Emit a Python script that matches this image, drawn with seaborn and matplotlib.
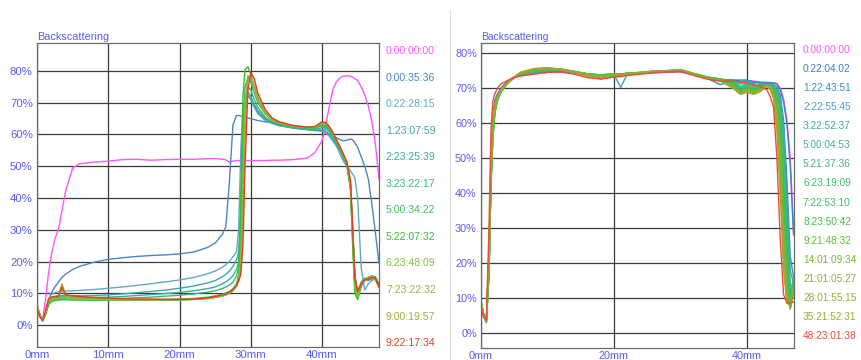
import matplotlib
matplotlib.use("Agg")
import matplotlib.pyplot as plt
from matplotlib.lines import Line2D
import pandas as pd
import seaborn as sns

# ---------------- left panel: backscattering profiles (position in mm, BS in %) ----------------
left_pos_mm = [0, 0.4, 0.8, 1.2, 1.6, 2.0, 2.5, 3.0, 3.5, 4.0,
               5, 6, 8, 10, 12, 14, 16, 18, 20, 22,
               24, 25, 26, 26.5, 27, 27.5, 28, 28.3, 28.6, 28.9,
               29.2, 29.6, 30, 30.5, 31, 32, 33, 34, 36, 38,
               39, 40, 40.5, 41, 41.5, 42, 42.5, 43, 43.5, 44,
               44.3, 44.6, 45, 45.5, 46, 46.5, 47, 47.5, 48]

left_times = ["0:00:00:00", "0:00:35:36", "0:22:28:15", "1:23:07:59", "2:23:25:39", "3:23:22:17",
              "5:00:34:22", "5:22:07:32", "6:23:48:09", "7:23:22:32", "9:00:19:57", "9:22:17:34"]

left_t00 = [5.5, 3, 2, 8, 16, 22, 27, 30, 36, 42,
            49.5, 50.8, 51.3, 51.6, 52.1, 52.2, 51.9, 52.1, 52.2, 52.2,
            52.4, 52.4, 52.2, 52.0, 51.3, 51.6, 51.8, 51.8, 51.7, 51.7,
            51.8, 51.8, 51.8, 51.8, 51.8, 51.8, 51.9, 51.9, 52.1, 52.6,
            54.3, 58, 62.5, 68.5, 74, 76.5, 77.8, 78.4, 78.5, 78.3,
            78.0, 77.6, 77, 75, 72.5, 69, 64, 57, 46]
left_t01 = [5.5, 3, 1.8, 4, 8, 10, 12, 13.5, 15, 16,
            17.5, 18.5, 19.8, 20.7, 21.2, 21.6, 21.9, 22.1, 22.4, 23.0,
            24.5, 25.8, 28.5, 31, 45, 63, 66, 66, 65.8, 65.6,
            65.4, 65.2, 65.0, 64.7, 64.4, 64.0, 63.7, 63.4, 62.8, 62.2,
            61.7, 61.0, 60.5, 60.0, 59.5, 59, 58.4, 58, 58.2, 58.6,
            58.3, 57.5, 56, 53, 50, 46, 38, 29, 19.5]
left_t02 = [5.5, 3, 1.8, 4, 7.5, 9.5, 10.2, 10.5, 10.6, 10.7,
            10.8, 10.9, 11.2, 11.6, 12.0, 12.5, 13.0, 13.6, 14.2, 15.0,
            16.2, 17.0, 18.2, 19.0, 20.0, 21.5, 23, 30, 55, 68,
            71.5, 72.5, 71, 68.5, 66.5, 64.5, 63.5, 62.8, 62.0, 61.5,
            61.2, 61.0, 60.5, 59.5, 58, 56.5, 54, 51.5, 50, 48.5,
            47.5, 46.5, 40, 18, 11, 13, 14, 14.5, 13]
left_t03 = [5.5, 3, 1.6, 4, 7, 8.5, 9, 9.2, 9.3, 9.3,
            9.3, 9.2, 9.3, 9.5, 9.8, 10.2, 10.6, 11.0, 11.6, 12.3,
            13.3, 14.0, 15.2, 16.0, 17.0, 18.5, 20.5, 23, 35, 62,
            72, 73.5, 72, 69.5, 67.5, 65, 63.8, 63.0, 62.2, 61.6,
            61.3, 61.5, 61.2, 60.2, 58.5, 56.5, 55, 52.5, 50, 43,
            29, 15, 10, 13, 14.5, 14, 14.5, 15, 12.5]
left_t04 = [5.8, 3.2, 1.5, 3.5, 6.5, 8, 8.5, 8.8, 8.9, 8.9,
            8.8, 8.7, 8.7, 8.8, 9.0, 9.3, 9.6, 9.9, 10.3, 10.8,
            11.5, 12.0, 13.0, 13.6, 14.4, 15.5, 17.5, 20, 28, 55,
            70, 72, 71.2, 69, 67, 64.8, 63.5, 62.8, 62.0, 61.5,
            61.4, 62.2, 62, 61, 59.3, 57, 55.3, 53, 50.5, 44,
            30, 16, 10.5, 13.5, 14.8, 14.2, 14.8, 15.2, 12.8]
left_t05 = [6, 3.3, 1.5, 3.5, 6.5, 7.8, 8.2, 8.4, 8.5, 8.5,
            8.4, 8.3, 8.3, 8.3, 8.4, 8.6, 8.8, 9.1, 9.4, 9.8,
            10.4, 10.8, 11.5, 12.0, 12.6, 13.5, 15.5, 18, 24, 45,
            68, 75, 74, 71, 68.5, 65.5, 64, 63.2, 62.3, 61.8,
            61.8, 62.8, 62.5, 61.5, 59.8, 57.5, 55.5, 53, 50.5, 44,
            31, 16, 9.5, 13, 14.5, 14.6, 15, 14.8, 12.5]
left_t06 = [6, 3.2, 1.4, 3.5, 6.5, 7.5, 7.8, 8.0, 8.1, 8.1,
            8.0, 8.0, 7.9, 7.9, 7.9, 8.0, 8.0, 8.1, 8.2, 8.4,
            8.8, 9.2, 9.7, 10.1, 10.6, 11.5, 13, 16, 30, 60,
            75, 78, 76.5, 73, 70, 66.5, 64.5, 63.5, 62.5, 62.0,
            62.0, 63.0, 62.8, 61.8, 60, 57.8, 55.5, 53, 50.5, 43,
            27, 12, 8.5, 12.5, 14.0, 14.8, 15.2, 14.5, 12]
left_t07 = [6.2, 3.4, 1.4, 3.4, 6.3, 7.4, 7.7, 7.9, 8.0, 8.0,
            7.9, 7.9, 7.8, 7.8, 7.8, 7.8, 7.9, 7.9, 8.0, 8.1,
            8.4, 8.7, 9.1, 9.5, 10.0, 10.8, 12.5, 15, 40, 72,
            80.5, 81.3, 79, 75, 71.5, 67, 64.8, 63.7, 62.7, 62.1,
            62.1, 63.2, 63, 62, 60.2, 58, 55.8, 53.3, 50.8, 43,
            25, 10, 8, 12, 14.5, 15, 15.5, 15, 12.5]
left_t08 = [6, 3.3, 1.5, 3.8, 7, 8, 8.2, 8.3, 8.5, 8.4,
            8.2, 8.1, 8.0, 7.9, 7.9, 7.9, 8.0, 8.0, 8.0, 8.2,
            8.5, 8.8, 9.3, 9.7, 10.2, 11, 12.5, 14.5, 20, 45,
            70, 78, 77.5, 74.5, 71, 66.8, 64.6, 63.6, 62.6, 62.1,
            62.2, 63.4, 63.2, 62.2, 60.4, 58.2, 56, 53.5, 51, 44,
            28, 12, 9, 12.8, 14.2, 14.6, 15.4, 14.2, 11.8]
left_t09 = [6, 3.3, 1.5, 4, 7.5, 8.2, 8.4, 8.6, 11.5, 9.0,
            8.6, 8.3, 8.1, 8.0, 7.9, 7.9, 7.9, 7.9, 7.9, 8.1,
            8.4, 8.7, 9.2, 9.6, 10.1, 10.9, 12.3, 14, 18, 38,
            66, 78.5, 78, 75, 71.3, 67, 64.7, 63.6, 62.6, 62.2,
            62.3, 63.6, 63.4, 62.3, 60.5, 58.3, 56, 53.6, 51, 44.5,
            29, 13, 9.5, 13, 14.4, 14.8, 15.2, 14.6, 12]
left_t10 = [5.8, 3.2, 1.6, 4.5, 8, 8.8, 9.0, 9.2, 13, 9.6,
            9.0, 8.6, 8.3, 8.1, 8.0, 8.0, 7.9, 7.9, 7.9, 8.1,
            8.4, 8.7, 9.2, 9.6, 10.0, 10.8, 12.2, 13.8, 17, 32,
            62, 78, 78.3, 75.5, 71.5, 67.2, 64.8, 63.7, 62.7, 62.3,
            62.4, 63.7, 63.5, 62.4, 60.6, 58.4, 56.2, 53.7, 51.2, 45,
            30, 14, 10, 13.2, 14.5, 15, 15.3, 14.4, 11.8]
left_t11 = [5, 2.5, 1.3, 4.5, 8, 8.8, 9.0, 9.0, 12, 9.5,
            9.2, 9.0, 8.7, 8.5, 8.3, 8.2, 8.2, 8.1, 8.1, 8.2,
            8.6, 9.0, 9.5, 9.8, 10.4, 11.2, 12.5, 14, 16, 25,
            50, 74, 79.5, 77.5, 73, 68, 65.2, 64.0, 62.8, 62.3,
            62.5, 64.0, 63.8, 62.6, 60.8, 58.5, 56.3, 53.8, 51.3, 45.5,
            31, 15, 10.5, 13, 14.2, 14.5, 15, 14.8, 12]

left_colors = ["#ff55ff", "#4a86c0", "#64a8c8", "#3fa6aa", "#3aae94", "#3cb47c",
               "#3cbc60", "#34c034", "#7cc444", "#94b444", "#a8a838", "#e0401e"]

# ---------------- right panel ----------------
right_pos_mm = [0, 0.4, 0.8, 1.2, 1.5, 1.8, 2.1, 2.5, 3, 4,
                5, 6, 8, 10, 12, 14, 16, 18, 20, 21,
                22, 24, 26, 28, 30, 32, 34, 36, 38, 39,
                40, 41, 42, 43, 43.5, 44, 44.5, 45, 45.5, 46,
                46.5, 47]

right_times = ["0:00:00:00", "0:22:04:02", "1:22:43:51", "2:22:55:45", "3:22:52:37", "5:00:04:53",
               "5:21:37:36", "6:23:19:09", "7:22:53:10", "8:23:50:42", "9:21:48:32", "14:01:09:34",
               "21:01:05:27", "28:01:55:15", "35:21:52:31", "48:23:01:38"]

right_t00 = [8.5, 5, 3.5, 22, 48, 62, 66.5, 68.5, 70, 72,
             73, 73.6, 74.2, 74.5, 74.6, 74.3, 73.8, 73.6, 73.8, 73.9,
             74.0, 74.2, 74.4, 74.5, 74.6, 73.8, 73.0, 72.4, 72.3, 72.2,
             72.2, 72.0, 71.8, 71.6, 71.5, 71.4, 71.2, 70, 67, 61,
             50, 30]
right_t01 = [8.7, 5, 3.3, 22, 48, 62, 66.5, 68.3, 70, 72,
             73.2, 73.8, 74.4, 74.8, 74.8, 74.4, 73.8, 73.5, 73.8, 73.8,
             74.0, 74.2, 74.5, 74.6, 74.8, 73.8, 72.8, 71.0, 72.2, 72.3,
             72.3, 71.8, 71.5, 71.6, 71.6, 71.5, 71.3, 69.5, 66, 60,
             48, 28]
right_t02 = [8.8, 5, 3.2, 21, 47, 61, 66, 68.2, 69.8, 72,
             73.2, 73.9, 74.5, 74.9, 74.9, 74.4, 73.8, 73.4, 73.8, 73.7,
             74.0, 74.3, 74.5, 74.6, 74.8, 73.9, 73.0, 72.5, 72.3, 71.5,
             72.0, 71.6, 71.4, 71.4, 71.3, 71.0, 70.5, 68, 61, 44,
             22, 16]
right_t03 = [8.9, 5, 3.2, 20, 46, 60, 65.5, 68, 69.7, 71.8,
             73.1, 73.8, 74.5, 74.9, 75.0, 74.4, 73.8, 73.5, 73.9, 70.2,
             74.0, 74.2, 74.5, 74.6, 74.9, 73.9, 73.0, 72.4, 70.8, 72.0,
             72.2, 71.3, 70.2, 71.2, 71.1, 70.8, 70.2, 67, 59, 40,
             18, 14]
right_t04 = [8.9, 5, 3.1, 19, 45, 59, 65, 67.8, 69.6, 71.8,
             73.1, 73.9, 74.6, 75.0, 75.0, 74.5, 73.9, 73.6, 73.9, 73.8,
             74.1, 74.3, 74.6, 74.7, 75.0, 74.0, 73.0, 72.5, 72.3, 71.2,
             71.8, 70.5, 71.0, 71.0, 70.8, 70.5, 69.5, 66, 57, 36,
             14, 12]
right_t05 = [9.0, 5.2, 3.0, 18, 44, 58, 64.5, 67.5, 69.5, 71.7,
             73.0, 73.9, 74.7, 75.1, 75.1, 74.6, 74.0, 73.7, 74.0, 73.9,
             74.1, 74.3, 74.6, 74.7, 75.0, 74.0, 73.0, 72.5, 72.0, 70.5,
             71.5, 70.8, 70.5, 71.0, 70.8, 70.3, 69, 65, 54, 31,
             11, 16]
right_t06 = [9.0, 5.2, 3.0, 17, 43, 57, 64, 67.2, 69.3, 71.6,
             73.0, 74.0, 74.8, 75.2, 75.1, 74.6, 74.0, 73.7, 74.0, 73.9,
             74.2, 74.4, 74.7, 74.8, 75.1, 74.1, 73.1, 72.6, 71.8, 70.0,
             71.2, 70.2, 71.2, 70.8, 70.6, 70.0, 68.5, 63, 50, 27,
             9, 15]
right_t07 = [8.8, 5.3, 3.0, 16, 42, 56, 63.5, 67, 69.2, 71.5,
             73.0, 74.0, 74.8, 75.2, 75.2, 74.7, 74.1, 73.8, 74.0, 74.0,
             74.2, 74.4, 74.8, 74.8, 75.2, 74.1, 73.1, 72.6, 71.5, 69.5,
             70.8, 69.8, 70.8, 70.8, 70.5, 69.8, 68, 61, 46, 23,
             8, 14]
right_t08 = [8.7, 5.3, 3.0, 16, 42, 56, 63, 66.8, 69, 71.5,
             73.0, 74.1, 74.9, 75.3, 75.2, 74.7, 74.1, 73.8, 74.1, 74.0,
             74.3, 74.5, 74.8, 74.9, 75.2, 74.2, 73.2, 72.6, 71.2, 69.2,
             70.5, 69.5, 70.5, 70.8, 70.5, 69.8, 66.5, 59, 42, 19,
             7, 13]
right_t09 = [8.6, 5.2, 3.1, 17, 43, 57, 63, 66.5, 68.8, 71.4,
             73.0, 74.1, 75.0, 75.4, 75.3, 74.8, 74.1, 73.8, 74.1, 74.0,
             74.3, 74.5, 74.9, 74.9, 75.3, 74.2, 73.2, 72.6, 71.0, 69.0,
             70.3, 69.2, 70.3, 70.8, 70.5, 69.5, 66, 57, 38, 16,
             6.8, 12]
right_t10 = [8.5, 5.2, 3.2, 18, 44, 58, 63.5, 66.5, 68.8, 71.3,
             73.0, 74.2, 75.1, 75.5, 75.4, 74.8, 74.1, 73.7, 74.0, 73.9,
             74.2, 74.5, 74.9, 75.0, 75.3, 74.1, 73.1, 72.5, 70.8, 68.8,
             70.0, 69.0, 70.0, 70.8, 70.6, 69.2, 65, 55, 34, 14,
             7, 11]
right_t11 = [8.4, 5.0, 3.3, 19, 45, 59, 64, 66.8, 69, 71.3,
             73.0, 74.3, 75.3, 75.6, 75.5, 74.8, 74.0, 73.5, 73.8, 73.8,
             74.1, 74.4, 74.8, 75.0, 75.3, 74.0, 73.0, 72.4, 70.5, 68.6,
             69.8, 68.8, 69.8, 70.8, 70.5, 68.5, 64, 52, 30, 12,
             7, 12]
right_t12 = [8.3, 4.8, 3.4, 20, 46, 60, 64.5, 67, 69.2, 71.4,
             73.1, 74.4, 75.4, 75.7, 75.5, 74.7, 73.9, 73.3, 73.6, 73.7,
             74.0, 74.4, 74.8, 75.0, 75.2, 73.9, 72.9, 72.3, 70.2, 68.4,
             69.5, 68.5, 69.5, 70.8, 70.3, 68, 62, 47, 26, 10,
             7.5, 13]
right_t13 = [8.2, 4.6, 3.5, 22, 48, 61, 65, 67.3, 69.4, 71.5,
             73.2, 74.5, 75.5, 75.8, 75.4, 74.6, 73.6, 72.9, 73.4, 73.6,
             73.9, 74.3, 74.7, 75.0, 75.1, 73.8, 72.8, 72.2, 70.0, 68.3,
             69.0, 68.3, 69.2, 70.8, 70.0, 67.5, 60, 43, 22, 9,
             7.5, 12]
right_t14 = [8.0, 4.5, 3.6, 24, 50, 62, 65.5, 67.5, 69.5, 71.6,
             73.3, 74.6, 75.6, 75.8, 75.3, 74.4, 73.4, 72.6, 73.2, 73.5,
             73.8, 74.2, 74.6, 74.9, 75.0, 73.7, 72.7, 72.0, 69.8, 68.2,
             68.8, 68.2, 69.0, 70.5, 69.5, 67, 58, 40, 18, 8.5,
             8, 11]
right_t15 = [7.5, 4.5, 3.6, 30, 58, 66.5, 68.5, 70, 71.2, 72.2,
             73.0, 73.5, 74.0, 74.5, 74.6, 74.0, 73.0, 72.6, 73.2, 73.3,
             73.6, 74.0, 74.4, 74.6, 74.8, 73.6, 72.6, 72.0, 72.0, 71.8,
             71.5, 71.0, 70.5, 69.5, 67.5, 64.5, 50, 27, 11, 8.6,
             8.6, 8.8]

right_colors = ["#ff55ff", "#3c80c0", "#3a92b8", "#40a2b4", "#40aaa0", "#40b294",
                "#3cb880", "#40be70", "#3cc05c", "#44c044", "#5cc030", "#78b830",
                "#8cb034", "#9aaa3a", "#a4a434", "#f04a3a"]

left_series = [left_t00, left_t01, left_t02, left_t03, left_t04, left_t05,
               left_t06, left_t07, left_t08, left_t09, left_t10, left_t11]
right_series = [right_t00, right_t01, right_t02, right_t03, right_t04, right_t05,
                right_t06, right_t07, right_t08, right_t09, right_t10, right_t11,
                right_t12, right_t13, right_t14, right_t15]


def long_frame(pos, names, series):
    rows = []
    for name, vals in zip(names, series):
        for p, v in zip(pos, vals):
            rows.append({"pos": p, "bs": v, "time": name})
    return pd.DataFrame(rows)


sns.set_theme(style="white")
plt.rcParams["font.family"] = ["Liberation Sans", "DejaVu Sans"]

W, H = 861, 360
fig = plt.figure(figsize=(W / 100, H / 100), dpi=100)
fig.patch.set_facecolor("white")

TICK_BLUE = "#5a5af5"
GRID = "#3a3a3a"


def fx(px):
    return px / W


def fy(py):
    return 1 - py / H


def make_panel(rect, pos, names, series, colors, xlim, ylim, xticks, tick_fs,
               legend_x, legend_y0, legend_dy, legend_fs):
    l, t, r, b = rect
    ax = fig.add_axes([fx(l), fy(b), fx(r) - fx(l), fy(t) - fy(b)])
    ax.set_facecolor("white")
    df = long_frame(pos, names, series)
    sns.lineplot(data=df, x="pos", y="bs", hue="time", hue_order=names,
                 palette=dict(zip(names, colors)), estimator=None, sort=False,
                 linewidth=1.0, legend=False, ax=ax)
    ax.set_xlim(*xlim)
    ax.set_ylim(*ylim)
    ax.set_xticks(xticks)
    ax.set_xticklabels([f"{v}mm" for v in xticks])
    yt = list(range(0, 90, 10))
    ax.set_yticks(yt)
    ax.set_yticklabels([f"{v}%" for v in yt])
    ax.set_xlabel("")
    ax.set_ylabel("")
    ax.grid(True, color=GRID, linewidth=0.9)
    ax.set_axisbelow(True)
    for s in ax.spines.values():
        s.set_color("#6a6a6a")
        s.set_linewidth(0.9)
    ax.tick_params(axis="both", length=0, pad=3, labelsize=tick_fs, colors=TICK_BLUE)
    ax.tick_params(axis="x", pad=2)
    ax.text(0, 1.003, "Backscattering", transform=ax.transAxes, ha="left", va="bottom",
            fontsize=tick_fs - 0.4, color=TICK_BLUE)
    for i, (name, c) in enumerate(zip(names, colors)):
        fig.text(fx(legend_x), fy(legend_y0 + i * legend_dy), name, color=c,
                 fontsize=legend_fs, ha="left", va="center")
    return ax


make_panel((37, 43, 379, 347), left_pos_mm, left_times, left_series, left_colors,
           (0, 48.0), (-6.9, 88.8), [0, 10, 20, 30, 40], 8.2,
           386, 51, 26.55, 7.6)
make_panel((481, 43, 794, 348), right_pos_mm, right_times, right_series, right_colors,
           (0, 47.07), (-4.3, 82.9), [0, 20, 40], 7.8,
           803, 50, 19.07, 7.3)

# thin divider between the two screens
fig.add_artist(Line2D([fx(450), fx(450)], [0, fy(10)], color="#dcdcdc", linewidth=0.8))

fig.savefig("out.png", dpi=100, facecolor="white")
